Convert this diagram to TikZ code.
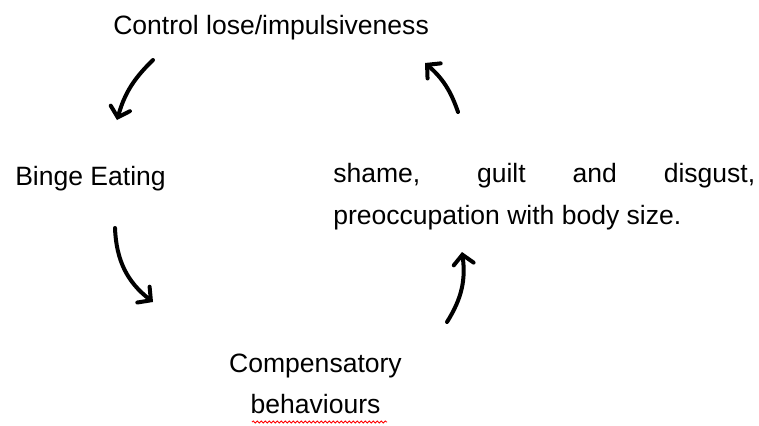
\documentclass[tikz,border=0pt]{standalone}
\usepackage{fontspec}
\setmainfont{Liberation Sans}
\usetikzlibrary{arrows.meta,decorations.pathmorphing}

\begin{document}
\begin{tikzpicture}[x=0.75pt,y=-0.75pt]
\tikzset{etape/.style={inner sep=0pt, font=\fontsize{19.9}{31.1}\selectfont},
         fleche/.style={line width=3pt, line cap=round, -{Straight Barb[length=7pt,width=15pt,line cap=round]}}}
\useasboundingbox (0,0) rectangle (759,425);
\node[etape, anchor=base west] (E1) at (113,34) {Control lose/impulsiveness};
\node[etape, anchor=base west] (E2) at (15,185.7) {Binge Eating};
\node[etape, anchor=north, align=center] (E3) at (315.5,353.5) {Compensatory\\behaviours};
\node[etape, anchor=north west, text width=316.5pt, align=justify] (E4) at (333,163.5)
  {shame, guilt and disgust,\linebreak preoccupation with body size.};
\coordinate (A1) at (153,60);  \coordinate (B1) at (117,120);
\coordinate (A2) at (115,228); \coordinate (B2) at (153,302);
\coordinate (A3) at (447,322); \coordinate (B3) at (462,252);
\coordinate (A4) at (458,112); \coordinate (B4) at (425,63);
\draw[fleche] (A1) to[bend right=15] (B1);
\draw[fleche] (A2) to[bend right=25] (B2);
\draw[fleche] (A3) to[bend right=20] (B3);
\draw[fleche] (A4) to[bend right=15] (B4);
\coordinate (S1) at (252,422); \coordinate (S2) at (387,422);
\draw[red, line width=0.6pt, decorate, decoration={snake, segment length=3pt, amplitude=0.8pt}] (S1) -- (S2);
\end{tikzpicture}
\end{document}
